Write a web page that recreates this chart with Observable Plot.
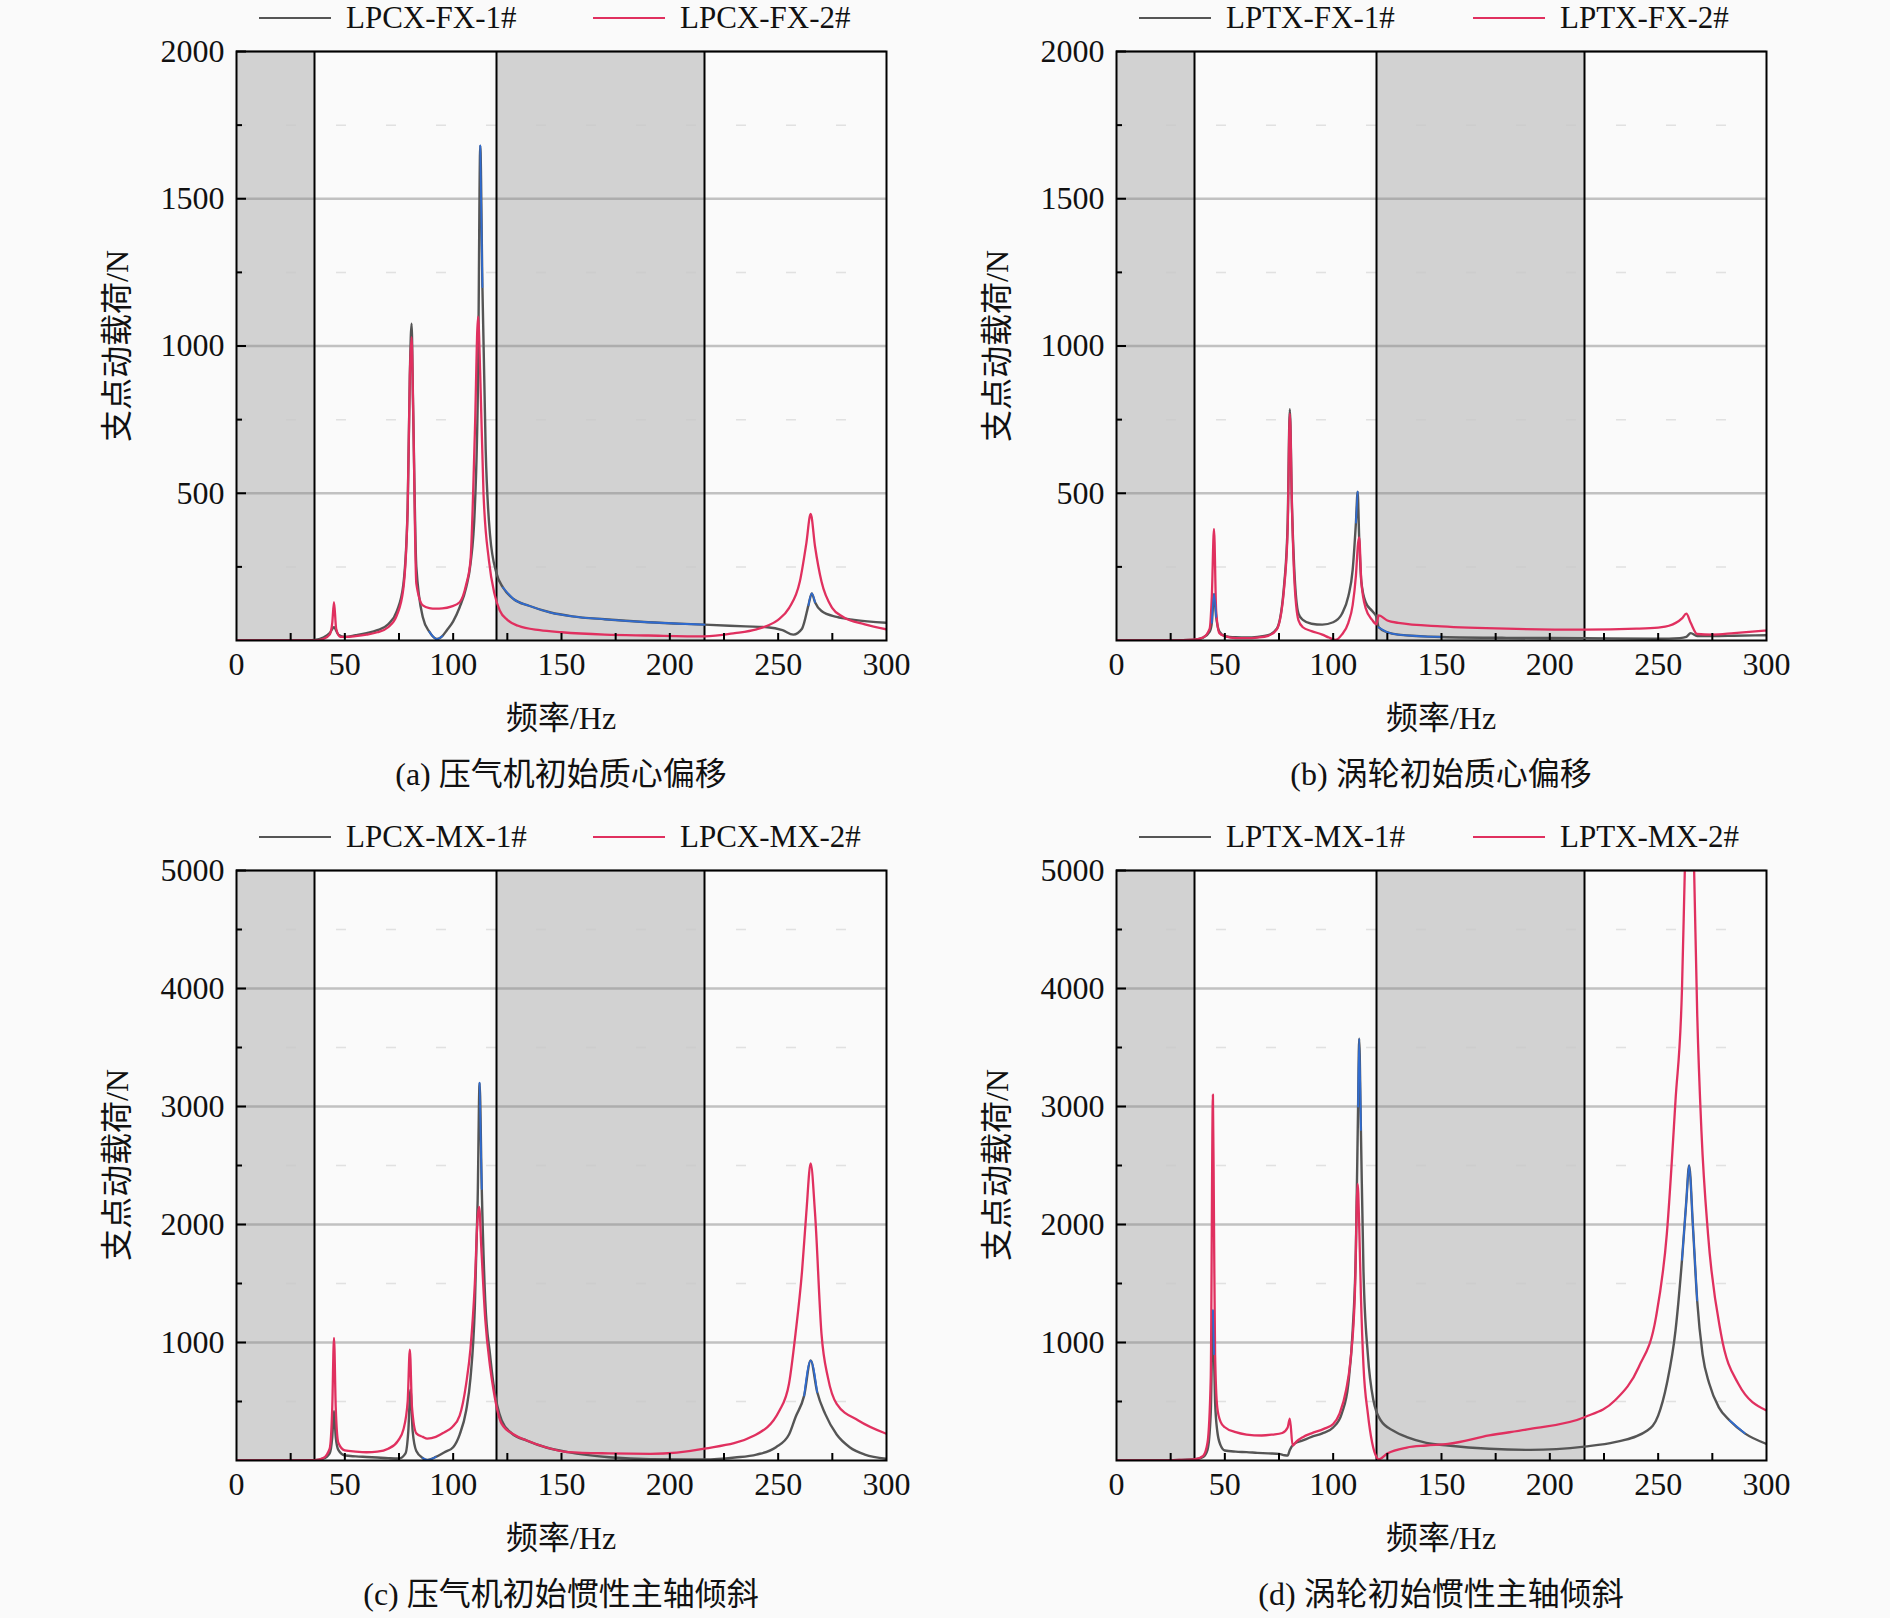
<!DOCTYPE html>
<html><head><meta charset="utf-8">
<script src="https://cdn.jsdelivr.net/npm/d3@7"></script>
<script src="https://cdn.jsdelivr.net/npm/@observablehq/plot@0.6"></script>
<style>
body{margin:0;background:#fafafa;}
#root{position:relative;width:1890px;height:1618px;font-family:"Liberation Serif","Noto Sans CJK SC",serif;color:#111;overflow:hidden;}
.panel{position:absolute;}
.t{position:absolute;font-size:32px;line-height:1.15;white-space:nowrap;transform:translate(-50%,-50%);}
.tl{position:absolute;font-size:31px;line-height:1.15;white-space:nowrap;transform:translate(0,-50%);}
.ln{position:absolute;height:2px;}
</style></head><body><div id="root"></div>
<script>
// ---------- data ----------
const xTicks = [0, 50, 100, 150, 200, 250, 300];
const xMinor = [25, 50, 75, 100, 125, 150, 175, 200, 225, 250, 275];
const bandStart = [0, 120];
const bandEnd = [36, 216];
const bandEdges = [36, 120, 216];
const yTicksF = [500, 1000, 1500, 2000];
const yMinorF = [250, 750, 1250, 1750];
const yTicksM = [1000, 2000, 3000, 4000, 5000];
const yMinorM = [500, 1500, 2500, 3500, 4500];

const legendA = ["LPCX-FX-1#", "LPCX-FX-2#"];
const legendB = ["LPTX-FX-1#", "LPTX-FX-2#"];
const legendC = ["LPCX-MX-1#", "LPCX-MX-2#"];
const legendD = ["LPTX-MX-1#", "LPTX-MX-2#"];
const captions = ["(a) 压气机初始质心偏移", "(b) 涡轮初始质心偏移", "(c) 压气机初始惯性主轴倾斜", "(d) 涡轮初始惯性主轴倾斜"];
const xTitle = "频率/Hz";
const yTitle = "支点动载荷/N";

// panel (a)
const aFreq1 = [0,10,20,30,36,40,43,45,47,50,55,60,65,70,74,77,79,80,80.8,81.5,83,86,89,92.5,95,97,100,103,106,108,110,111.5,112.5,113.5,115,117,120,123,128,135,145,155,170,190,216,235,245,252,257,261,264,265.5,267,270,277,285,300];
const aLoad1 = [0,0,0,0,2,10,25,45,20,12,18,25,35,55,100,190,450,900,1076,800,250,79,30,5,15,34,65,113,180,260,450,900,1680,1200,650,360,228,180,140,118,95,82,72,62,54,48,45,35,20,40,120,160,130,100,80,70,60];
const aFreq2 = [0,20,36,40,43,44.2,45,46,48,50,55,60,65,70,74,77,79,80,80.8,81.5,83,86,89,92,95,99,103,106,108,110,111.5,112.5,114,116.5,119,121.5,125,130,140,150,170,190,216,230,240,245,250,255,260,263,265,267,270,275,280,290,300];
const aLoad2 = [0,0,0,5,20,60,130,40,12,12,15,20,28,45,85,175,450,900,1030,800,193,119,110,108,109,115,130,190,272,702,1100,900,500,272,160,102,70,50,35,28,20,17,14,25,38,50,70,110,200,330,430,320,200,110,80,55,38];
// blue-tinted stretches of curve 1: [from Hz, to Hz, above N]
const aBlue = [[88, 96, 0], [111, 114, 1100], [121, 216, 0], [263, 267, 100]];

// panel (b)
const bFreq1 = [0,20,36,40,43,44,45,46,47.5,50,55,60,65,70,74,77.5,79,80,81,82,84,86,90,95,100,104,107,109,110.5,111.3,112,113,115,118,120,121,125,130,150,180,216,250,260,263,265,268,275,285,300];
const bLoad1 = [0,0,3,10,30,60,158,80,30,15,11,10,12,18,40,200,400,785,450,250,91,70,57,54,62,90,150,240,400,505,350,200,130,100,80,45,28,20,12,9,8,6,8,12,25,15,15,16,18];
const bFreq2 = [0,20,36,40,43,44,45,46,47.5,50,55,60,65,70,74,77.5,79,80,81,82,84,86,90,95,98,101,104,107,109,110.5,111.5,112,113,115,118,120,121,125,130,150,180,216,240,250,255,261,263,265,268,275,285,300];
const bLoad2 = [0,0,3,10,40,150,379,100,25,15,8,8,10,16,38,190,380,770,450,220,68,45,32,20,10,2,20,60,120,220,330,350,200,110,70,55,85,68,60,48,40,37,40,44,50,75,91,60,22,20,25,34];
const bBlue = [[44, 46, 60], [110.5, 112.2, 360], [121, 150, 0]];

// panel (c)
const cFreq1 = [0,20,36,40,43,44.2,45,45.8,47,50,55,60,65,70,75,78,79.3,80.3,81.3,83,86,88,92,96,100,103,106,108,110,111.3,112.2,113.2,114.8,117,118.6,122.4,127,134,143,153,172,191,216,230,240,249,255,258,262,265,268,271.7,277,283,290,300];
const cLoad1 = [0,0,3,15,60,200,420,200,90,42,35,30,25,20,17,60,250,600,250,80,20,5,30,70,113,220,424,700,1300,2200,3200,2300,1356,900,650,339,230,169,110,71,28,11,8,25,50,113,220,367,550,847,580,395,220,113,50,15];
const cFreq2 = [0,20,36,40,43,44.2,45,45.8,47,50,55,60,65,70,74.6,77,79,80,81,83,86,88,92,96,99.5,103,106,108,110,111.3,112,113,114.8,117,118.6,122.4,128,134,143,153,172,191,216,239,250.6,255,258,261,263,265,267,270,273,277,287,300];
const cLoad2 = [0,0,3,20,100,450,1040,450,150,85,75,70,75,100,169,260,500,940,450,230,200,186,200,240,282,380,650,950,1500,2062,2150,1800,1200,800,600,310,220,169,110,71,60,56,100,212,424,650,1073,1600,2100,2517,2100,1073,700,480,339,226];
const cBlue = [[86, 92, 0], [111.3, 113.2, 2300], [261, 269, 420]];

// panel (d)
const dFreq1 = [0,20,30,36,40,42,43.5,44.5,45,45.5,46.5,48,50,55,60,65,70,75,77.5,79,80,82,86,90,95,100,104,107,109,110.5,111.5,112,112.8,114,116,118.6,122,128,134,143,153,172,191,216,230,245,250,254,258,261,263,264.3,266,268,270.5,273.6,278,283,290,300];
const dLoad1 = [0,0,5,10,30,90,400,1271,900,500,250,130,85,75,71,65,60,56,45,42,90,141,170,200,230,280,400,650,1100,1800,3000,3574,2800,1600,900,508,339,250,198,150,127,99,90,118,155,254,380,650,1100,1700,2200,2500,2000,1356,900,650,450,339,230,141];
const dFreq2 = [0,20,30,36,40,42,43.5,44.5,45,45.5,46.5,48,50,55,60,67,72,76.5,79,80,81.3,83,86,90,95.7,100,103,106,108,110,111.3,112,112.8,114,116,118,120,121,125,134,143,153,172,191,216,230,241,249,254,258,261,262.3,264.5,266.6,268,270,273,279,287,300];
const dLoad2 = [0,0,5,10,40,150,700,3100,2000,900,450,330,282,240,220,212,220,233,280,355,127,160,198,230,268,310,400,600,850,1400,2345,2000,1400,800,400,150,30,10,60,110,127,141,212,268,367,508,791,1215,1921,3050,4000,5000,6500,5000,3800,2781,1921,1073,650,424];
const dBlue = [[44, 45.5, 600], [111.3, 112.8, 2500], [261, 268, 1300], [283, 292, 0]];

// ---------- layout ----------
const FW = 650;
const panels = [
  {left: 236, top: 51, h: 589, yT: yTicksF, yM: yMinorF, f1: aFreq1, v1: aLoad1, f2: aFreq2, v2: aLoad2, blue: aBlue, leg: legendA, cap: captions[0]},
  {left: 1116, top: 51, h: 589, yT: yTicksF, yM: yMinorF, f1: bFreq1, v1: bLoad1, f2: bFreq2, v2: bLoad2, blue: bBlue, leg: legendB, cap: captions[1]},
  {left: 236, top: 870, h: 590, yT: yTicksM, yM: yMinorM, f1: cFreq1, v1: cLoad1, f2: cFreq2, v2: cLoad2, blue: cBlue, leg: legendC, cap: captions[2]},
  {left: 1116, top: 870, h: 590, yT: yTicksM, yM: yMinorM, f1: dFreq1, v1: dLoad1, f2: dFreq2, v2: dLoad2, blue: dBlue, leg: legendD, cap: captions[3]}
];
const ML = 110, MR = 30, MT = 10, MB = 60;
const GRAY = "#555555", RED = "#e0305f", BLUE = "#2f6bd0";
const FONT = '"Liberation Serif","Noto Sans CJK SC",serif';
const root = document.getElementById("root");

function addText(cls, txt, x, y, extra) {
  const d = document.createElement("div");
  d.className = cls; d.textContent = txt;
  d.style.left = x + "px"; d.style.top = y + "px";
  if (extra) Object.assign(d.style, extra);
  root.appendChild(d);
}
function addLine(x1, x2, y, color) {
  const d = document.createElement("div");
  d.className = "ln";
  d.style.left = x1 + "px"; d.style.width = (x2 - x1) + "px";
  d.style.top = (y - 1) + "px"; d.style.background = color;
  root.appendChild(d);
}

for (const p of panels) {
  const yMax = d3.max(p.yT);
  // curve 1 restricted to its blue-tinted stretches (NaN elsewhere -> gaps)
  const blueY = p.f1.map((f, i) => p.blue.some(([lo, hi, mn]) => f >= lo && f <= hi && p.v1[i] >= mn) ? p.v1[i] : NaN);
  const chart = Plot.plot({
    width: FW + ML + MR, height: p.h + MT + MB,
    marginLeft: ML, marginRight: MR, marginTop: MT, marginBottom: MB,
    x: {domain: [0, d3.max(xTicks)]},
    y: {domain: [0, yMax]},
    style: {fontFamily: FONT, fontSize: "32px", background: "transparent", color: "#111", overflow: "visible"},
    marks: [
      Plot.rect(bandStart, {x1: bandStart, x2: bandEnd, y1: 0, y2: yMax, fill: "#d2d2d2"}),
      Plot.ruleY(p.yM, {stroke: "#c8c8c8", strokeWidth: 1.5, strokeDasharray: "10,40", strokeOpacity: 0.5}),
      Plot.ruleY(p.yT, {stroke: "#888", strokeOpacity: 0.5, strokeWidth: 2.5}),
      Plot.ruleX(bandEdges, {stroke: "#000", strokeWidth: 2}),
      Plot.line(p.f1, {x: p.f1, y: p.v1, stroke: GRAY, strokeWidth: 2.4, curve: "monotone-x", clip: true}),
      Plot.line(p.f2, {x: p.f2, y: p.v2, stroke: RED, strokeWidth: 2.3, curve: "monotone-x", clip: true}),
      Plot.line(p.f1, {x: p.f1, y: blueY, stroke: BLUE, strokeWidth: 1.8, curve: "monotone-x", clip: true}),
      Plot.ruleX(xMinor, {stroke: "#000", strokeWidth: 2, insetTop: p.h - 7}),
      Plot.ruleY(p.yT, {stroke: "#000", strokeWidth: 2, insetRight: FW - 10}),
      Plot.ruleY(p.yM, {stroke: "#000", strokeWidth: 2, insetRight: FW - 6}),
      Plot.frame({stroke: "#000", strokeWidth: 2}),
      Plot.axisX({ticks: xTicks, tickSize: 0, tickPadding: 12, tickFormat: d3.format("d"), label: null, fontSize: 32}),
      Plot.axisY({ticks: p.yT, tickSize: 0, tickPadding: 12, tickFormat: d3.format("d"), label: null, fontSize: 32})
    ]
  });
  chart.classList.add("panel");
  chart.style.left = (p.left - ML) + "px";
  chart.style.top = (p.top - MT) + "px";
  root.appendChild(chart);

  // legend
  const ly = p.top - 33;
  addLine(p.left + 23, p.left + 95, ly, GRAY);
  addText("tl", p.leg[0], p.left + 110, ly);
  addLine(p.left + 357, p.left + 429, ly, RED);
  addText("tl", p.leg[1], p.left + 444, ly);
  // axis titles and caption
  const bottom = p.top + p.h;
  addText("t", xTitle, p.left + FW / 2, bottom + 78);
  addText("t", p.cap, p.left + FW / 2, bottom + 134);
  addText("t", yTitle, p.left - 119, p.top + p.h / 2, {transform: "translate(-50%,-50%) rotate(-90deg)"});
}
</script></body></html>
